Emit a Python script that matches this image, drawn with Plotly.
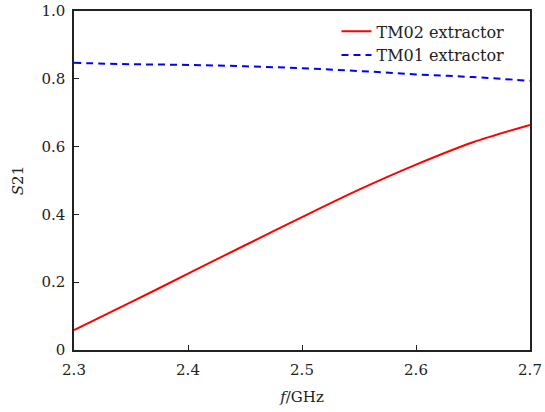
import plotly.graph_objects as go

freq = [2.30, 2.35, 2.40, 2.45, 2.50, 2.55, 2.60, 2.65, 2.70]
tm02 = [0.059, 0.141, 0.225, 0.309, 0.392, 0.473, 0.547, 0.613, 0.664]
tm01 = [0.847, 0.843, 0.841, 0.837, 0.831, 0.823, 0.813, 0.805, 0.794]

xticks = [2.3, 2.4, 2.5, 2.6, 2.7]
xticklabels = ["2.3", "2.4", "2.5", "2.6", "2.7"]
yticks = [0, 0.2, 0.4, 0.6, 0.8, 1.0]
yticklabels = ["0", "0.2", "0.4", "0.6", "0.8", "1.0"]

font = "DejaVu Serif, serif"
tf = dict(family=font, size=15, color="#222")

fig = go.Figure()
fig.add_trace(go.Scatter(x=freq, y=tm02, mode="lines", name="TM02 extractor",
                         line=dict(color="#ff0000", width=2, shape="spline", smoothing=0.8)))
fig.add_trace(go.Scatter(x=freq, y=tm01, mode="lines", name="TM01 extractor",
                         line=dict(color="#0000ff", width=2, dash="7px,5px", shape="spline")))

fig.update_layout(
    width=545, height=412,
    margin=dict(l=74, r=15, t=11, b=62, autoexpand=False),
    paper_bgcolor="white", plot_bgcolor="white",
    font=dict(family=font, size=15, color="#222"),
    legend=dict(x=0.955, y=0.99, xanchor="right", yanchor="top",
                bgcolor="rgba(0,0,0,0)", font=dict(family=font, size=16, color="#222"),
                itemwidth=30, tracegroupgap=0),
    xaxis=dict(range=[2.3, 2.7], tickvals=xticks, ticktext=xticklabels,
               ticks="inside", ticklen=5, tickcolor="#222", showgrid=False,
               tickfont=tf, automargin=False, ticklabelstandoff=5,
               zeroline=False, showline=True, linecolor="#222", linewidth=1.5,
               mirror=True, title=dict(text="<i>f</i>/GHz", standoff=14, font=tf)),
    yaxis=dict(range=[0, 1.0], tickvals=yticks, ticktext=yticklabels,
               ticks="inside", ticklen=5, tickcolor="#222", showgrid=False,
               tickfont=tf, automargin=False, ticklabelstandoff=4,
               zeroline=False, showline=True, linecolor="#222", linewidth=1.5,
               mirror=True, title=dict(text="<i>S</i>21", standoff=14, font=tf)),
)

fig.write_html("out.html", config={"displayModeBar": False},
               post_script="document.body.style.margin='0';document.body.style.overflow='hidden';")
